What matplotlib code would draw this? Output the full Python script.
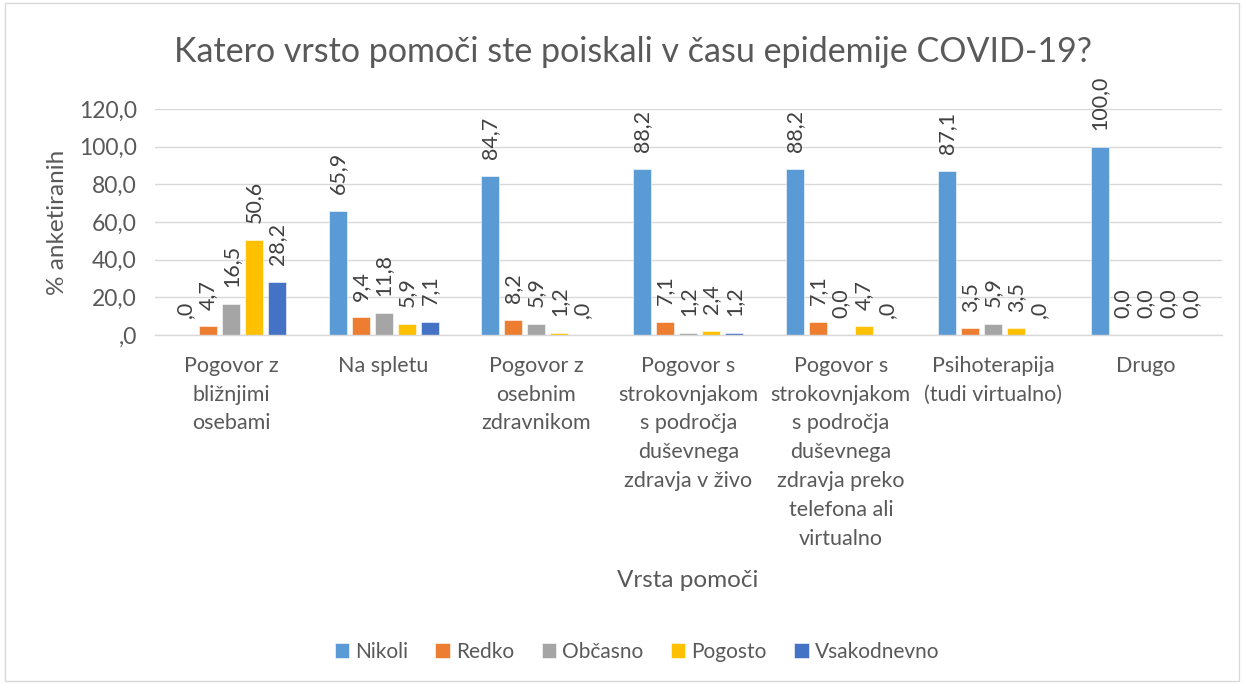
import matplotlib.pyplot as plt
import numpy as np
from matplotlib.patches import Rectangle

plt.rcParams["font.family"] = ["Lato", "DejaVu Sans"]

CATEGORIES = [
    "Pogovor z\nbližnjimi\nosebami",
    "Na spletu",
    "Pogovor z\nosebnim\nzdravnikom",
    "Pogovor s\nstrokovnjakom\ns področja\nduševnega\nzdravja v živo",
    "Pogovor s\nstrokovnjakom\ns področja\nduševnega\nzdravja preko\ntelefona ali\nvirtualno",
    "Psihoterapija\n(tudi virtualno)",
    "Drugo",
]
SERIES = ["Nikoli", "Redko", "Občasno", "Pogosto", "Vsakodnevno"]
NIKOLI = [0.0, 65.9, 84.7, 88.2, 88.2, 87.1, 100.0]
REDKO = [4.7, 9.4, 8.2, 7.1, 7.1, 3.5, 0.0]
OBCASNO = [16.5, 11.8, 5.9, 1.2, 0.0, 5.9, 0.0]
POGOSTO = [50.6, 5.9, 1.2, 2.4, 4.7, 3.5, 0.0]
VSAKODNEVNO = [28.2, 7.1, 0.0, 1.2, 0.0, 0.0, 0.0]
# data label text as shown in the source (zeros formatted differently per cell)
LABELS = [
    [",0", "65,9", "84,7", "88,2", "88,2", "87,1", "100,0"],
    ["4,7", "9,4", "8,2", "7,1", "7,1", "3,5", "0,0"],
    ["16,5", "11,8", "5,9", "1,2", "0,0", "5,9", "0,0"],
    ["50,6", "5,9", "1,2", "2,4", "4,7", "3,5", "0,0"],
    ["28,2", "7,1", ",0", "1,2", ",0", ",0", "0,0"],
]
Y_TICKS = [0, 20, 40, 60, 80, 100, 120]
Y_TICKLABELS = [",0", "20,0", "40,0", "60,0", "80,0", "100,0", "120,0"]

COLORS = ["#5B9BD5", "#ED7D31", "#A5A5A5", "#FFC000", "#4472C4"]
TXT = "#595959"

values = [NIKOLI, REDKO, OBCASNO, POGOSTO, VSAKODNEVNO]

fig = plt.figure(figsize=(12.44, 6.84), dpi=100)
ax = fig.add_axes([0.1246, 0.5102, 0.8576, 0.3304])

x = np.arange(len(CATEGORIES))
slot = 0.151
bar_w = 0.118
for i, (name, vals) in enumerate(zip(SERIES, values)):
    pos = x + (i - 2) * slot
    ax.bar(pos, vals, width=bar_w, color=COLORS[i], edgecolor="white",
           linewidth=0.4, label=name, zorder=2)
    for px, v, lab in zip(pos, vals, LABELS[i]):
        ax.annotate(lab, (px, v), xytext=(0, 12), textcoords="offset points",
                    rotation=90, ha="center", va="bottom", fontsize=15.5,
                    color="#404040")

ax.set_xlim(-0.5, len(CATEGORIES) - 0.5)
ax.set_ylim(0, 120)
ax.set_yticks(Y_TICKS)
ax.set_yticklabels(Y_TICKLABELS)
ax.set_xticks(x)
ax.set_xticklabels(CATEGORIES, linespacing=1.55)
ax.tick_params(axis="y", length=0, pad=13, labelsize=16.5, labelcolor=TXT)
ax.tick_params(axis="x", length=0, pad=15, labelsize=15.5, labelcolor=TXT)
ax.grid(axis="y", color="#D9D9D9", linewidth=1.0, zorder=0)
ax.set_axisbelow(True)
for side in ("top", "right", "left"):
    ax.spines[side].set_visible(False)
ax.spines["bottom"].set_color("#D9D9D9")
ax.spines["bottom"].set_linewidth(1.0)

ax.set_ylabel("% anketiranih", fontsize=17.5, color=TXT, labelpad=8)
fig.text(0.553, 0.152, "Vrsta pomoči", ha="center", va="center",
         fontsize=17.5, color=TXT)
fig.text(0.509, 0.924, "Katero vrsto pomoči ste poiskali v času epidemije COVID-19?",
         ha="center", va="center", fontsize=24.5, color=TXT)

fig.legend(loc="center", bbox_to_anchor=(0.512, 0.047), ncol=5, frameon=False,
           fontsize=15, handlelength=0.7, handleheight=0.7, handletextpad=0.3,
           columnspacing=1.3, labelcolor=TXT)

fig.patches.append(Rectangle((0.004, 0.004), 0.992, 0.992, transform=fig.transFigure,
                             fill=False, edgecolor="#D9D9D9", linewidth=1.0))

fig.savefig("out.png", dpi=100, facecolor="white")
